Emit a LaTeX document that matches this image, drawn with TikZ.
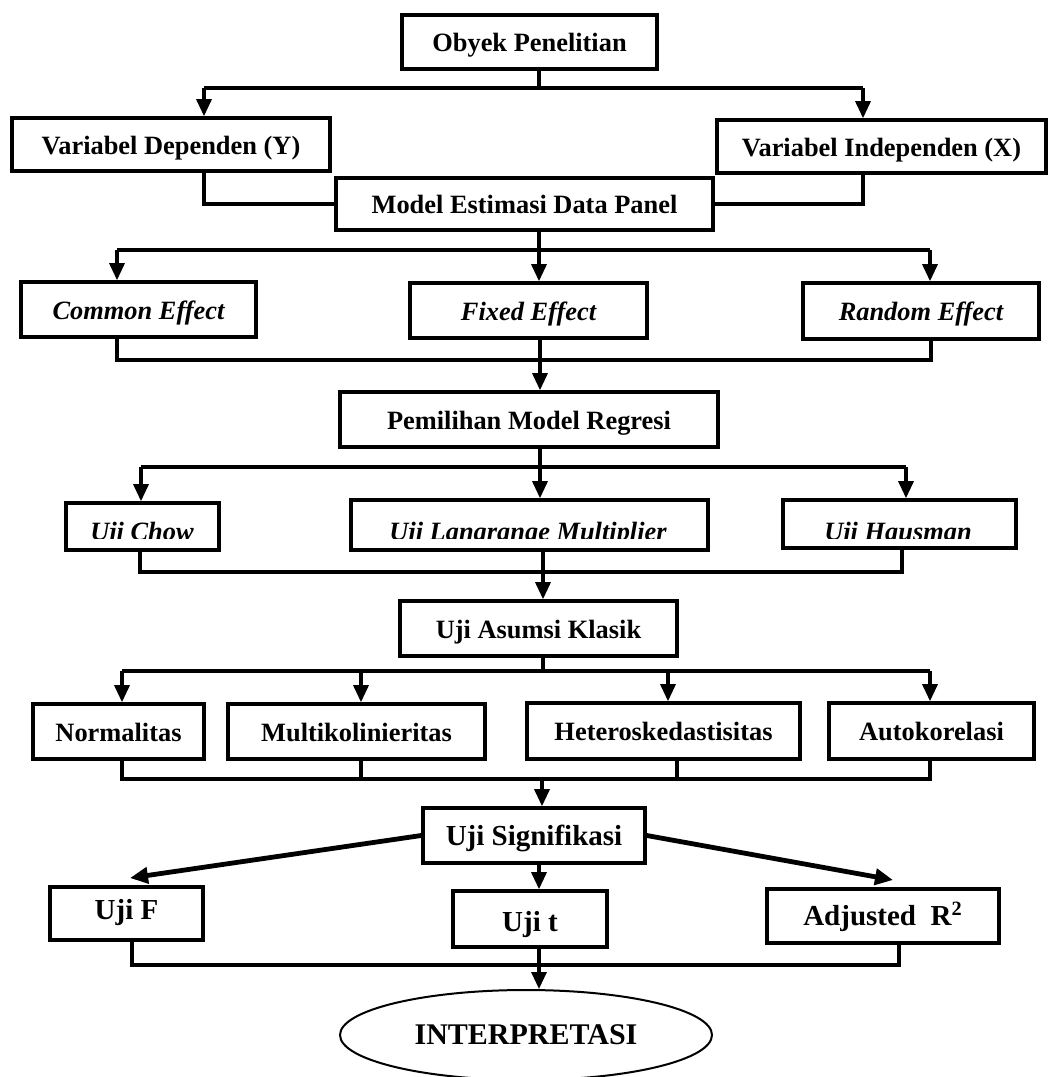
\documentclass[tikz,border=0pt]{standalone}
\usepackage{fontspec}
\setmainfont{Liberation Serif}
\usepackage{tikz}
\usetikzlibrary{arrows.meta,shapes.geometric}
\tikzset{
  flowbox/.style 2 args={
    draw,
    line width=1.8pt,
    inner sep=0pt,
    align=center,
    minimum width=#1*0.5pt,
    minimum height=#2*0.5pt,
    text height=9.7pt,
    text depth=0pt,
    font=\fontsize{13.2}{16}\selectfont\bfseries
  },
  flowit/.style={
    font=\fontsize{13.2}{16}\selectfont\bfseries\itshape
  },
  flowbig/.style={
    text height=9.6pt,
    font=\fontsize{14.5}{17}\selectfont\bfseries
  },
  flowoval/.style={
    draw,
    ellipse,
    line width=1pt,
    inner sep=0pt,
    minimum width=186pt,
    minimum height=45pt,
    font=\fontsize{15}{18}\selectfont\bfseries
  },
  flowline/.style={
    line width=1.6pt
  },
  flowarrow/.style={
    -{Triangle[length=8.5pt,width=7.5pt]},
    line width=1.6pt
  },
  flowdiag/.style={
    -{Triangle[length=9pt,width=8pt]},
    line width=2.4pt
  }
}

\begin{document}
\begin{tikzpicture}[x=0.5pt,y=-0.5pt]
    \useasboundingbox (0,0) rectangle (1048,1077);

    % boxes
    \node[flowbox={255}{54}] (obyek) at (529.5,42) {Obyek Penelitian};
    \node[flowbox={318}{53}] (vdep) at (171,144.5) {Variabel Dependen (Y)};
    \node[flowbox={329}{53}] (vind) at (881.5,146.5) {Variabel Independen (X)};
    \node[flowbox={377}{52}] (model) at (524.5,204) {Model Estimasi Data Panel};
    \node[flowbox={235}{55}, flowit] (common) at (138.5,309.5) {Common Effect};
    \node[flowbox={237}{55}, flowit] (fixed) at (528.5,310.5) {Fixed Effect};
    \node[flowbox={236}{56}, flowit] (random) at (921,311) {Random Effect};
    \node[flowbox={378}{55}] (pemilihan) at (529,419.5) {Pemilihan Model Regresi};
    \node[flowbox={153}{47}] (chow) at (142.5,526.5) {};
    \node[flowbox={357}{50}] (langrange) at (529.5,525) {};
    \node[flowbox={233}{48}] (hausman) at (899.5,524) {};
    \node[flowbox={277}{55}] (asumsi) at (538.5,628.5) {Uji Asumsi Klasik};
    \node[flowbox={171}{55}] (normal) at (118.5,731.5) {Normalitas};
    \node[flowbox={257}{55}] (multi) at (356.5,731.5) {Multikolinieritas};
    \node[flowbox={273}{56}] (hetero) at (663.5,731) {Heteroskedastisitas};
    \node[flowbox={205}{56}] (auto) at (931.5,731) {Autokorelasi};
    \node[flowbox={222}{55}, flowbig] (signif) at (534,835.5) {Uji Signifikasi};
    \node[flowbox={153}{53}, flowbig, text height=6.1pt] (ujif) at (126.5,913.5) {Uji F};
    \node[flowbox={154}{56}, flowbig, text height=12.6pt] (ujit) at (530,919) {Uji t};
    \node[flowbox={232}{54}, flowbig] (adjr) at (883,916) {Adjusted\ \ R\textsuperscript{2}};
    \node[flowoval] (interp) at (526,1035) {INTERPRETASI};

    % texts cut at the bottom
    \begin{scope}
      \clip (0,490) rectangle (1048,538);
      \node[flowit, anchor=base] (tchow) at (142,540) {Uji Chow};
      \node[flowit, anchor=base] (tlangrange) at (528,540) {Uji Langrange Multiplier};
      \node[flowit, anchor=base] (thausman) at (898,540) {Uji Hausman};
    \end{scope}

    % junctions
    \coordinate (s1) at (539,88);
    \coordinate (s1l) at (204,88);
    \coordinate (s1r) at (863,88);
    \coordinate (s3) at (539,250);
    \coordinate (s3l) at (117,250);
    \coordinate (s3r) at (930,250);
    \coordinate (s4) at (540,360);
    \coordinate (s4l) at (117,360);
    \coordinate (s4r) at (931,360);
    \coordinate (s5) at (540,467);
    \coordinate (s5l) at (141,467);
    \coordinate (s5r) at (906,467);
    \coordinate (s6) at (543,572);
    \coordinate (s6l) at (140,572);
    \coordinate (s6r) at (902,572);
    \coordinate (s7) at (543,671);
    \coordinate (s7a) at (122,671);
    \coordinate (s7b) at (361,671);
    \coordinate (s7c) at (668,671);
    \coordinate (s7d) at (930,671);
    \coordinate (s8) at (542,779);
    \coordinate (s8a) at (122,779);
    \coordinate (s8b) at (361,779);
    \coordinate (s8c) at (677,779);
    \coordinate (s8d) at (930,779);
    \coordinate (tipf) at (130,878);
    \coordinate (tipr) at (893,880);
    \coordinate (s10) at (539,965);
    \coordinate (s10l) at (132,965);
    \coordinate (s10r) at (899,965);

    % obyek -> variabel
    \draw[flowline] (obyek.south -| s1) -- (s1);
    \draw[flowline] (s1l) -- (s1r);
    \foreach \c/\n in {s1l/vdep, s1r/vind}
      \draw[flowarrow] (\c) -- (\c |- \n.north);

    % variabel -> model
    \draw[flowline] (vdep.south -| s1l) |- (model.west);
    \draw[flowline] (vind.south -| s1r) |- (model.east);

    % model -> effects
    \draw[flowline] (model.south -| s3) -- (s3);
    \draw[flowline] (s3l) -- (s3r);
    \foreach \c/\n in {s3l/common, s3/fixed, s3r/random}
      \draw[flowarrow] (\c) -- (\c |- \n.north);

    % effects -> pemilihan
    \draw[flowline] (common.south -| s4l) |- (s4r) -- (random.south -| s4r);
    \draw[flowarrow] (fixed.south -| s4) -- (pemilihan.north -| s4);

    % pemilihan -> uji
    \draw[flowline] (pemilihan.south -| s5) -- (s5);
    \draw[flowline] (s5l) -- (s5r);
    \foreach \c/\n in {s5l/chow, s5/langrange, s5r/hausman}
      \draw[flowarrow] (\c) -- (\c |- \n.north);

    % uji -> asumsi
    \draw[flowline] (chow.south -| s6l) |- (s6r) -- (hausman.south -| s6r);
    \draw[flowarrow] (langrange.south -| s6) -- (asumsi.north -| s6);

    % asumsi -> klasik
    \draw[flowline] (asumsi.south -| s7) -- (s7);
    \draw[flowline] (s7a) -- (s7d);
    \foreach \c/\n in {s7a/normal, s7b/multi, s7c/hetero, s7d/auto}
      \draw[flowarrow] (\c) -- (\c |- \n.north);

    % klasik -> signifikasi
    \draw[flowline] (normal.south -| s8a) |- (s8d) -- (auto.south -| s8d);
    \draw[flowline] (multi.south -| s8b) -- (s8b);
    \draw[flowline] (hetero.south -| s8c) -- (s8c);
    \draw[flowarrow] (s8) -- (signif.north -| s8);

    % signifikasi -> tests
    \draw[flowdiag] (signif.west) -- (tipf);
    \draw[flowdiag] (signif.east) -- (tipr);
    \draw[flowarrow] (signif.south -| s10) -- (ujit.north -| s10);

    % tests -> interpretasi
    \draw[flowline] (ujif.south -| s10l) |- (s10r) -- (adjr.south -| s10r);
    \draw[flowarrow] (ujit.south -| s10) -- (interp.north -| s10);
  \end{tikzpicture}
\end{document}
